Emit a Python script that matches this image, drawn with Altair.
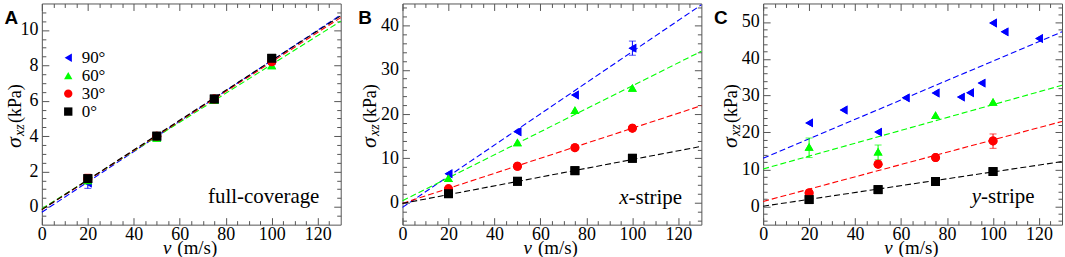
import altair as alt
import pandas as pd

# ---------------- data ----------------
SERIES = ["90°", "60°", "30°", "0°"]
COLORS = ["#0000ff", "#00ff00", "#ff0000", "#000000"]
SHAPES = ["triangle-left", "triangle-up", "circle", "square"]

V = [20, 50, 75, 100]
FIT_V = [0, 130]

# Panel A: full-coverage
A_90 = [1.35, 3.95, 6.1, 8.3]
A_60 = [1.5, 3.9, 6.05, 8.0]
A_30 = [1.6, 4.0, 6.1, 8.2]
A_0 = [1.6, 4.0, 6.1, 8.4]
A_FIT_90 = [-0.3, 10.85]
A_FIT_60 = [-0.1, 10.5]
A_FIT_30 = [-0.15, 10.7]
A_FIT_0 = [-0.15, 10.8]
A_ERR_SERIES = ["90°", "30°", "0°"]
A_ERR_V = [20, 20, 20]
A_ERR_LO = [1.05, 1.4, 1.45]
A_ERR_HI = [1.65, 1.85, 1.8]

# Panel B: x-stripe
B_90 = [6.5, 16.0, 24.3, 34.9]
B_60 = [5.5, 13.6, 20.9, 25.9]
B_30 = [3.1, 8.2, 12.4, 16.8]
B_0 = [2.0, 4.8, 7.2, 10.0]
B_FIT_90 = [-1.1, 44.7]
B_FIT_60 = [0.4, 34.2]
B_FIT_30 = [-0.2, 21.9]
B_FIT_0 = [-0.2, 12.7]
B_ERR_SERIES = ["90°"]
B_ERR_V = [100]
B_ERR_LO = [33.3]
B_ERR_HI = [36.5]

# Panel C: y-stripe
C_90_V = [20, 35, 50, 62, 75, 86, 90, 95, 100, 105, 120]
C_90 = [22.6, 26.1, 20.1, 29.4, 30.7, 29.6, 30.8, 33.4, 49.7, 47.3, 45.5]
C_60 = [16.1, 14.8, 24.7, 28.3]
C_30 = [3.6, 11.4, 13.2, 17.7]
C_0 = [1.8, 4.5, 6.7, 9.4]
C_FIT_90 = [13.0, 47.3]
C_FIT_60 = [10.1, 32.8]
C_FIT_30 = [1.3, 23.0]
C_FIT_0 = [0.0, 12.1]
C_ERR_SERIES = ["60°", "60°", "30°"]
C_ERR_V = [20, 50, 100]
C_ERR_LO = [13.2, 12.6, 15.7]
C_ERR_HI = [18.5, 16.6, 19.6]

X_MAJOR = [0, 20, 40, 60, 80, 100, 120]
X_MINOR = [5, 10, 15, 25, 30, 35, 45, 50, 55, 65, 70, 75, 85, 90, 95, 105, 110, 115, 125]


def pts_frame(vs_list, ys_list):
    rows = []
    for s, vs, ys in zip(SERIES, vs_list, ys_list):
        for v, y in zip(vs, ys):
            rows.append({"series": s, "v": v, "s": y})
    return pd.DataFrame(rows)


def fit_frame(fits):
    rows = []
    for s, ys in zip(SERIES, fits):
        for v, y in zip(FIT_V, ys):
            rows.append({"series": s, "v": v, "s": y})
    return pd.DataFrame(rows)


def err_frame(ser, vs, lo, hi):
    return pd.DataFrame({"series": ser, "v": vs, "lo": lo, "hi": hi})


# ---------------- styling ----------------
W, H = 300, 222
FONT = "Liberation Serif, Times New Roman, DejaVu Serif, serif"
SANS = "Liberation Sans, Arial, DejaVu Sans, sans-serif"
FRAME = "#555555"
MSIZE = 80

cscale = alt.Scale(domain=SERIES, range=COLORS)
sscale = alt.Scale(domain=SERIES, range=SHAPES)


def label_axis(orient, values, pad):
    return alt.Axis(values=values, orient=orient, ticks=False, tickSize=0, domain=False,
                    grid=False, labelFont=FONT, labelFontSize=18, labelColor="black",
                    labelPadding=pad, labelFlush=False, labelOverlap=False, title=None)


def tick_axis(orient, values, size, offset):
    return alt.Axis(values=values, orient=orient, offset=offset, labels=False, domain=False,
                    grid=False, ticks=True, tickSize=size, tickColor=FRAME, tickWidth=1,
                    title=None)


def panel(fit_df, pts_df, err_df, ydom, ymajor, yminor, letter, letter_x, title_x,
          notes, legend):
    xs = alt.Scale(domain=[0, 130], nice=False, zero=False)
    ys = alt.Scale(domain=ydom, nice=False, zero=False)

    def X(axis):
        return alt.X("v:Q", scale=xs, axis=axis)

    def Y(field, axis):
        return alt.Y(f"{field}:Q", scale=ys, axis=axis)

    col = alt.Color("series:N", scale=cscale, legend=None)

    if legend:
        leg = alt.Legend(orient="none", legendX=18, legendY=46, title=None,
                         labelFont=FONT, labelFontSize=17, labelColor="black",
                         symbolSize=70, labelOffset=5, rowPadding=0, padding=0,
                         symbolStrokeWidth=0)
        lcol = alt.Color("series:N", scale=cscale, legend=leg, sort=SERIES)
        lshp = alt.Shape("series:N", scale=sscale, legend=leg, sort=SERIES)
    else:
        lcol = alt.Color("series:N", scale=cscale, legend=None)
        lshp = alt.Shape("series:N", scale=sscale, legend=None)

    # first layer carries the legend (drawn underneath, duplicated on top later)
    points_leg = alt.Chart(pts_df).mark_point(filled=True, size=MSIZE, opacity=1).encode(
        x=X(None), y=Y("s", None), color=lcol, shape=lshp,
    )

    lines = alt.Chart(fit_df).mark_line(strokeDash=[6, 3], strokeWidth=1.1).encode(
        x=X(label_axis("bottom", X_MAJOR, 1)),
        y=Y("s", label_axis("left", ymajor, 4)),
        color=col,
    )

    points = alt.Chart(pts_df).mark_point(filled=True, size=MSIZE, opacity=1).encode(
        x=X(tick_axis("top", X_MAJOR, 7, -H)),
        y=Y("s", tick_axis("right", ymajor, 7, -W)),
        color=col,
        shape=alt.Shape("series:N", scale=sscale, legend=None),
    )

    erule = alt.Chart(err_df).mark_rule(strokeWidth=1).encode(
        x=X(tick_axis("top", X_MINOR, 4, -H)),
        y=Y("lo", tick_axis("right", yminor, 4, -W)),
        y2="hi:Q",
        color=col,
    )
    cap_lo = alt.Chart(err_df).mark_tick(orient="horizontal", size=7, thickness=1).encode(
        x=X(tick_axis("bottom", X_MAJOR, 7, -H)),
        y=Y("lo", tick_axis("left", ymajor, 7, -W)),
        color=col,
    )
    cap_hi = alt.Chart(err_df).mark_tick(orient="horizontal", size=7, thickness=1).encode(
        x=X(tick_axis("bottom", X_MINOR, 4, -H)),
        y=Y("hi", tick_axis("left", yminor, 4, -W)),
        color=col,
    )

    one = pd.DataFrame({"k": [0]})

    def txt(text, x, y, size, style="normal", font=FONT, weight="normal", align="left",
            angle=0):
        return alt.Chart(one).mark_text(
            text=text, font=font, fontSize=size, fontStyle=style, fontWeight=weight,
            align=align, baseline="alphabetic", angle=angle, color="black",
        ).encode(x=alt.value(x), y=alt.value(y))

    texts = [
        txt(letter, letter_x, 20.7, 19, font=SANS, weight="bold"),
        txt("σ", title_x, 145, 22, style="italic", angle=270),
        txt("xz", title_x + 3, 133, 14, style="italic", angle=270),
        txt("(kPa)", title_x, 120, 18, angle=270),
        txt("v", 130, H + 29.3, 19, style="italic", align="right"),
        txt("(m/s)", 136, H + 29.3, 19, align="left"),
    ]
    for t, x, y, style in notes:
        texts.append(txt(t, x, y, 21, style=style, align="right"))

    return alt.layer(points_leg, lines, erule, cap_lo, cap_hi, points, *texts).resolve_axis(
        x="independent", y="independent"
    ).properties(width=W, height=H)


chartA = panel(
    fit_frame([A_FIT_90, A_FIT_60, A_FIT_30, A_FIT_0]),
    pts_frame([V, V, V, V], [A_90, A_60, A_30, A_0]),
    err_frame(A_ERR_SERIES, A_ERR_V, A_ERR_LO, A_ERR_HI),
    [-1, 11.5], [0, 2, 4, 6, 8, 10],
    [-0.5, 0.5, 1, 1.5, 2.5, 3, 3.5, 4.5, 5, 5.5, 6.5, 7, 7.5, 8.5, 9, 9.5, 10.5, 11],
    "A", -37.4, -20.8,
    [("full-coverage", 278.6, 200.7, "normal")],
    True,
)

chartB = panel(
    fit_frame([B_FIT_90, B_FIT_60, B_FIT_30, B_FIT_0]),
    pts_frame([V, V, V, V], [B_90, B_60, B_30, B_0]),
    err_frame(B_ERR_SERIES, B_ERR_V, B_ERR_LO, B_ERR_HI),
    [-5, 45], [0, 10, 20, 30, 40],
    [-4, -2, 2, 4, 6, 8, 12, 14, 16, 18, 22, 24, 26, 28, 32, 34, 36, 38, 42, 44],
    "B", -44.4, -26.5,
    [("-stripe", 280.6, 201, "normal"), ("x", 280.6 - 53.7, 201, "italic")],
    False,
)

chartC = panel(
    fit_frame([C_FIT_90, C_FIT_60, C_FIT_30, C_FIT_0]),
    pts_frame([C_90_V, V, V, V], [C_90, C_60, C_30, C_0]),
    err_frame(C_ERR_SERIES, C_ERR_V, C_ERR_LO, C_ERR_HI),
    [-5, 55], [0, 10, 20, 30, 40, 50],
    [-4, -2, 2, 4, 6, 8, 12, 14, 16, 18, 22, 24, 26, 28, 32, 34, 36, 38, 42, 44,
     46, 48, 52, 54],
    "C", -49.3, -26.5,
    [("-stripe", 272.4, 200.7, "normal"), ("y", 272.4 - 53.7, 200.7, "italic")],
    False,
)

chart = alt.hconcat(chartA, chartB, chartC, spacing=62, bounds="flush").properties(
    padding={"left": 2, "top": 1, "right": 0, "bottom": 0},
    background="white",
).configure_view(stroke=FRAME, strokeWidth=1).resolve_scale(color="shared", shape="shared")

chart.save("out.html", embed_options={"renderer": "svg", "actions": False})
